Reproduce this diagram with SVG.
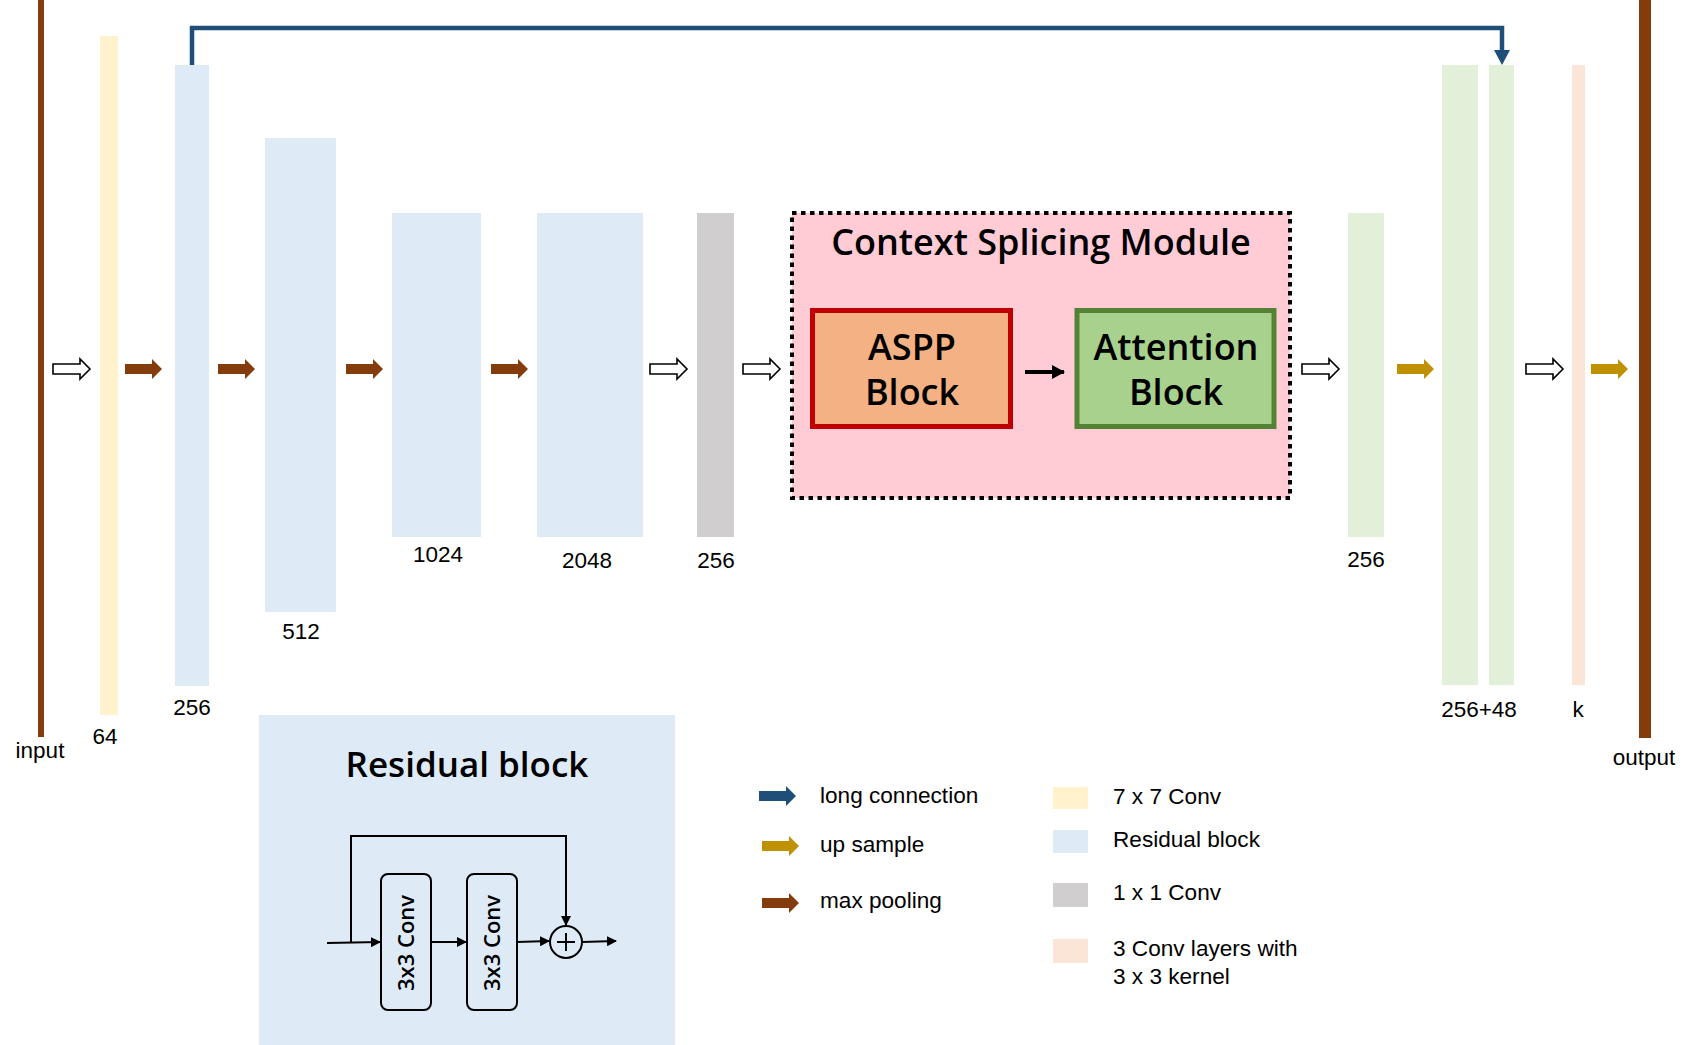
<svg xmlns="http://www.w3.org/2000/svg" xmlns:xlink="http://www.w3.org/1999/xlink" width="1693" height="1045" viewBox="0 0 1693 1045">
<style>
.lbl{font-family:"Liberation Sans",Arial,sans-serif;font-size:22.5px;fill:#000;text-anchor:middle}
.leg{font-family:"Liberation Sans",Arial,sans-serif;font-size:22.6px;fill:#000}
.ttl{font-family:"Open Sans","Noto Sans",sans-serif;font-size:36px;font-weight:600;fill:#000;text-anchor:middle}
.cv{font-family:"Open Sans","Noto Sans",sans-serif;font-size:22px;font-weight:600;fill:#000;text-anchor:middle}
.wa{fill:#fff;stroke:#000;stroke-width:1.6}
.br{fill:#843C0C}
.gd{fill:#BF9000}
.bl{fill:#1F4E79}
.ln{stroke:#000;stroke-width:2;fill:none}
</style>
<defs>
<path id="ar" d="M0,-5 H27 V-10 L37,0 L27,10 V5 H0 Z"/>
<marker id="mk" markerWidth="10" markerHeight="10" refX="9" refY="5" orient="auto" markerUnits="userSpaceOnUse">
<path d="M0,0 L10,5 L0,10 Z" fill="#000"/>
</marker>
<marker id="mk2" markerWidth="14" markerHeight="14" refX="12" refY="7" orient="auto" markerUnits="userSpaceOnUse">
<path d="M0,0 L13,7 L0,14 Z" fill="#000"/>
</marker>
</defs>
<rect width="1693" height="1045" fill="#fff"/>

<g id="input">
<rect x="38" y="0" width="6" height="737" fill="#843C0C"/>
<text class="lbl" x="40" y="758">input</text>
</g>
<g id="conv7">
<rect x="100" y="36" width="18" height="679" fill="#FFF2CC"/>
<text class="lbl" x="105" y="744">64</text>
</g>
<g id="res1">
<rect x="175" y="65" width="34" height="621" fill="#DEEBF7"/>
<text class="lbl" x="192" y="715">256</text>
</g>
<g id="res2">
<rect x="265" y="138" width="71" height="474" fill="#DEEBF7"/>
<text class="lbl" x="301" y="639">512</text>
</g>
<g id="res3">
<rect x="392" y="213" width="89" height="324" fill="#DEEBF7"/>
<text class="lbl" x="438" y="562">1024</text>
</g>
<g id="res4">
<rect x="537" y="213" width="106" height="324" fill="#DEEBF7"/>
<text class="lbl" x="587" y="568">2048</text>
</g>
<g id="conv1x1">
<rect x="697" y="213" width="37" height="324" fill="#D0CECE"/>
<text class="lbl" x="716" y="568">256</text>
</g>
<g id="csm">
<rect x="792" y="213" width="498" height="285" fill="#FFCCD5" stroke="#000" stroke-width="4" stroke-dasharray="4.5 4.5"/>
<text class="ttl" x="1041" y="255">Context Splicing Module</text>
</g>
<g id="aspp">
<rect x="812.5" y="310.5" width="198" height="116" fill="#F4B183" stroke="#C00000" stroke-width="5"/>
<text class="ttl" x="912" y="360">ASPP</text>
<text class="ttl" x="912" y="405">Block</text>
</g>
<g id="attention">
<rect x="1077" y="310.5" width="197" height="116" fill="#A9D18E" stroke="#548235" stroke-width="5"/>
<text class="ttl" x="1176" y="360">Attention</text>
<text class="ttl" x="1176" y="405">Block</text>
</g>
<g id="dec1">
<rect x="1348" y="213" width="36" height="324" fill="#E2F0D9"/>
<text class="lbl" x="1366" y="567">256</text>
</g>
<g id="dec2">
<rect x="1442" y="65" width="36" height="620" fill="#E2F0D9"/>
<rect x="1489" y="65" width="25" height="620" fill="#E2F0D9"/>
<text class="lbl" x="1479" y="717">256+48</text>
</g>
<g id="conv3">
<rect x="1572" y="65" width="13" height="620" fill="#FBE5D6"/>
<text class="lbl" x="1578" y="717">k</text>
</g>
<g id="output">
<rect x="1639" y="0" width="12" height="738" fill="#843C0C"/>
<text class="lbl" x="1644" y="765">output</text>
</g>

<g id="connectors">
<use href="#ar" class="wa" x="53" y="369"/>
<use href="#ar" class="br" x="125" y="369"/>
<use href="#ar" class="br" x="218" y="369"/>
<use href="#ar" class="br" x="346" y="369"/>
<use href="#ar" class="br" x="491" y="369"/>
<use href="#ar" class="wa" x="650" y="369"/>
<use href="#ar" class="wa" x="743" y="369"/>
<line x1="1025" y1="372" x2="1064" y2="372" stroke="#000" stroke-width="4" marker-end="url(#mk2)"/>
<use href="#ar" class="wa" x="1302" y="369"/>
<use href="#ar" class="gd" x="1397" y="369"/>
<use href="#ar" class="wa" x="1526" y="369"/>
<use href="#ar" class="gd" x="1591" y="369"/>
<path d="M192,65 V28 H1502 V52" fill="none" stroke="#1F4E79" stroke-width="4.5"/>
<path d="M1494,50 H1510 L1502,65 Z" fill="#1F4E79"/>
</g>

<g id="residual-panel">
<rect x="259" y="715" width="416" height="330" fill="#DEEBF7"/>
<text class="ttl" x="467" y="777" style="font-size:35px">Residual block</text>
<rect x="381" y="874" width="50" height="136" rx="7" fill="none" stroke="#000" stroke-width="2"/>
<rect x="467" y="874" width="50" height="136" rx="7" fill="none" stroke="#000" stroke-width="2"/>
<text class="cv" transform="translate(414,943) rotate(-90)">3x3 Conv</text>
<text class="cv" transform="translate(500,943) rotate(-90)">3x3 Conv</text>
<circle cx="566" cy="942" r="16" fill="none" stroke="#000" stroke-width="2"/>
<path d="M557,942 H575 M566,933 V951" stroke="#000" stroke-width="2"/>
<line class="ln" x1="327" y1="943" x2="380" y2="942" marker-end="url(#mk)"/>
<path class="ln" d="M351,943 V836 H566 V925" marker-end="url(#mk)"/>
<line class="ln" x1="431" y1="942" x2="466" y2="942" marker-end="url(#mk)"/>
<line class="ln" x1="517" y1="942" x2="549" y2="941" marker-end="url(#mk)"/>
<line class="ln" x1="582" y1="942" x2="616" y2="941" marker-end="url(#mk)"/>
</g>

<g id="legend">
<use href="#ar" class="bl" x="759" y="796"/>
<text class="leg" x="820" y="803">long connection</text>
<use href="#ar" class="gd" x="762" y="846"/>
<text class="leg" x="820" y="852">up sample</text>
<use href="#ar" class="br" x="762" y="903"/>
<text class="leg" x="820" y="908">max pooling</text>
<rect x="1053" y="787" width="35" height="22" fill="#FFF2CC"/>
<text class="leg" x="1113" y="804">7 x 7 Conv</text>
<rect x="1053" y="830" width="35" height="23" fill="#DEEBF7"/>
<text class="leg" x="1113" y="847">Residual block</text>
<rect x="1053" y="883" width="35" height="24" fill="#D0CECE"/>
<text class="leg" x="1113" y="900">1 x 1 Conv</text>
<rect x="1053" y="939" width="35" height="24" fill="#FBE5D6"/>
<text class="leg" x="1113" y="956">3 Conv layers with</text>
<text class="leg" x="1113" y="984">3 x 3 kernel</text>
</g>
</svg>
